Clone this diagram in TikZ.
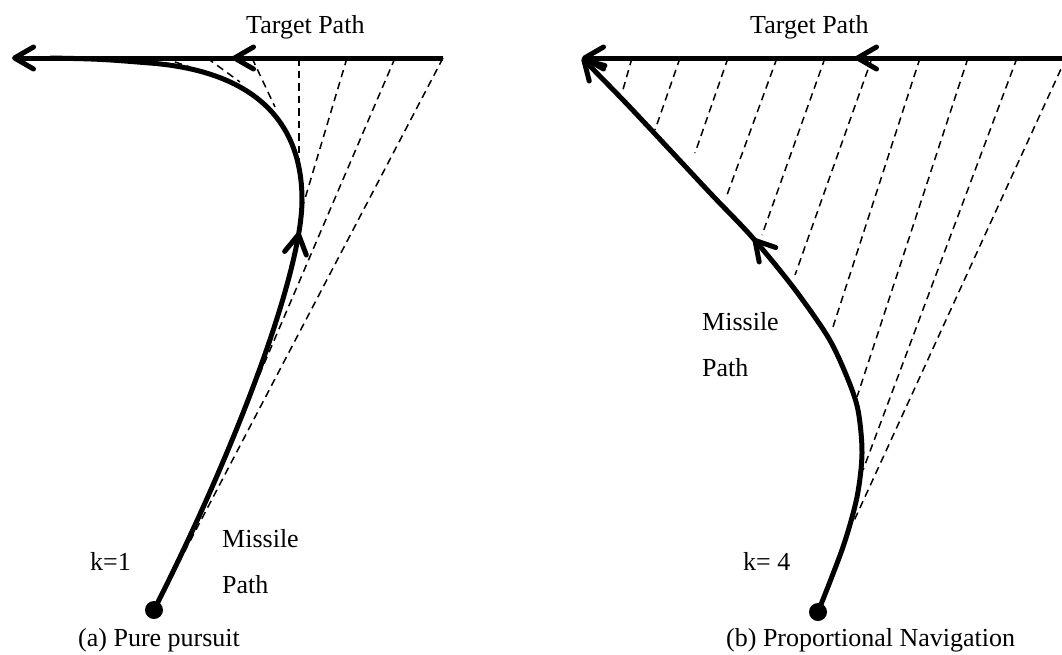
\documentclass[tikz,border=0pt]{standalone}
\usepackage{fontspec}
\setmainfont{Liberation Serif}
\usetikzlibrary{arrows.meta,decorations.markings}
\tikzset{
    track/.style={line width=5pt},
    los/.style={line width=1.5pt, dash pattern=on 7.5pt off 5pt},
    txt/.style={font=\fontsize{26}{30}\selectfont, inner sep=0pt, anchor=base west},
    dot/.style={circle, fill, inner sep=0pt, minimum size=18pt},
    midarrow/.style={
        postaction={decorate},
        decoration={markings, mark=at position #1 with {\arrow{>}}}
    },
    >={Straight Barb[length=19pt, width=22pt, round]}
}

\begin{document}
\begin{tikzpicture}[x=1pt, y=-1pt]
    \useasboundingbox (0,0) rectangle (1062,654);

    % (a) pure pursuit
    \node[txt] (tgta) at (246,33) {Target Path};
    \node[txt] (misa) at (222,547) {Missile};
    \node[txt] (patha) at (222,593) {Path};
    \node[txt] (ka) at (90,570) {k=1};
    \node[txt] (capa) at (78,646) {(a) Pure pursuit};
    \node[dot] (starta) at (154,610) {};
    \coordinate (ta0) at (443,58);
    \coordinate (ta1) at (12,58);
    \coordinate (turna) at (302,200);
    \coordinate (joina) at (150,63);
    \coordinate (enda) at (50,58);

    \foreach \i/\tx/\mx/\my in {0/443/154/610, 1/395/258/378, 2/347/301/212,
        3/299/299/170, 4/252/275/107, 5/207/240/82, 6/163/190/67} {
        \coordinate (la\i) at (\tx,58);
        \coordinate (lb\i) at (\mx,\my);
        \draw[los] (la\i) -- (lb\i);
    }

    \draw[track, ->, midarrow=211pt] (ta0) -- (ta1);
    \draw[track, midarrow=406pt] (starta.center)
        .. controls (240,440) and (302,270) .. (turna)
        .. controls (302,110) and (240,70) .. (joina)
        .. controls (100,59) .. (enda);

    % (b) proportional navigation
    \node[txt] (tgtb) at (750,33) {Target Path};
    \node[txt] (misb) at (702,330) {Missile};
    \node[txt] (pathb) at (702,376) {Path};
    \node[txt] (kb) at (743,570) {k= 4};
    \node[txt] (capb) at (726,646) {(b) Proportional Navigation};
    \node[dot] (startb) at (818,612) {};
    \coordinate (tb0) at (1075,58);
    \coordinate (tb1) at (582,58);

    \foreach \i/\tx/\mx/\my in {1/632/622/93, 2/680/655/130, 3/728/695/153,
        4/777/727/195, 5/825/762/235, 6/872/795/275, 7/920/832/330,
        8/968/857/397, 9/1017/863/470, 10/1066/853/523} {
        \coordinate (ra\i) at (\tx,58);
        \coordinate (rb\i) at (\mx,\my);
        \draw[los] (ra\i) -- (rb\i);
    }

    \draw[track, ->, midarrow=220pt] (tb0) -- (tb1);
    \draw[track, ->, midarrow=412pt] plot[smooth] coordinates {(startb.center)
        (843,547) (857,497) (862,453) (858,410) (847,377) (828,337) (793,287)
        (752,237) (712,195) (670,150) (625,102) (tb1)};
\end{tikzpicture}
\end{document}
